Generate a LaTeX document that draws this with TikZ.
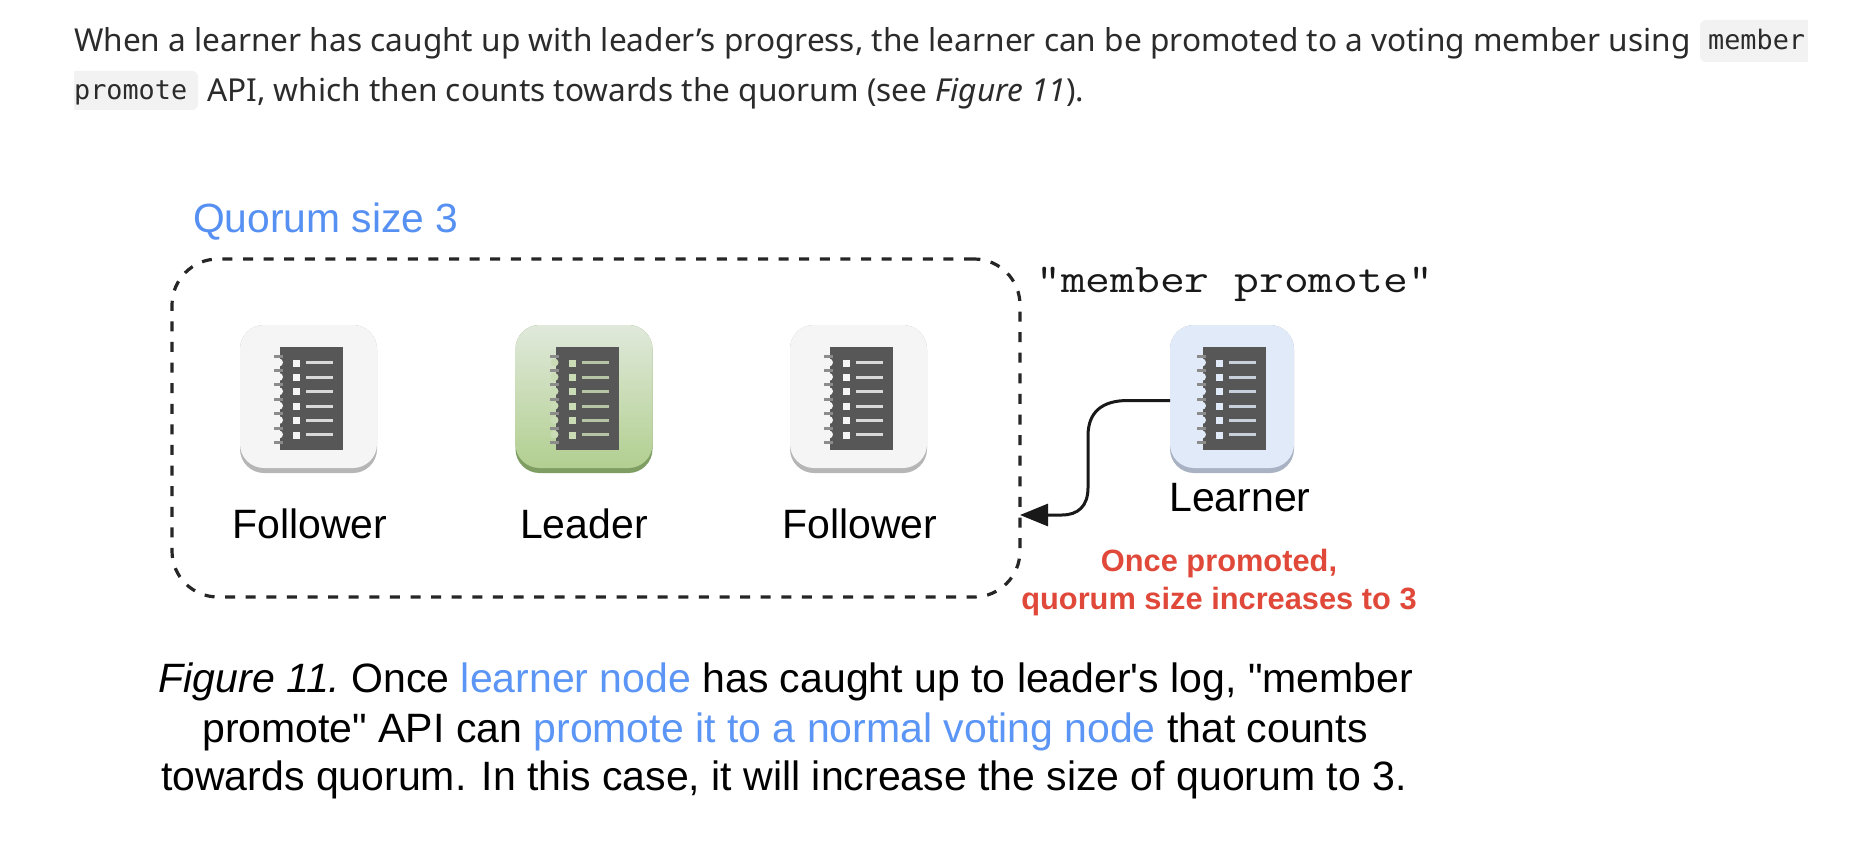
\documentclass[tikz,border=0pt]{standalone}
\usepackage{fontspec}
\usepackage{graphicx}
\usetikzlibrary{arrows.meta}
\setmainfont{Liberation Sans}
\newfontfamily\bodyfont{Noto Sans}
\newfontfamily\codefont{DejaVu Sans Mono}
\newfontfamily\labelfont{Liberation Sans}
\definecolor{bodyink}{HTML}{2B2B2B}
\definecolor{chip}{HTML}{F2F2F2}
\definecolor{qblue}{HTML}{5590F2}
\definecolor{capblue}{HTML}{5B95F5}
\definecolor{alert}{HTML}{E0493A}
\definecolor{folface}{HTML}{F5F5F5}
\definecolor{folshade}{HTML}{B6B6B6}
\definecolor{leadtop}{HTML}{E0E9DB}
\definecolor{leadbot}{HTML}{B2CF90}
\definecolor{leadshade}{HTML}{7F9E63}
\definecolor{learnface}{HTML}{E1EAF9}
\definecolor{learnshade}{HTML}{A8B2C3}
\definecolor{bookdark}{HTML}{575757}
\definecolor{ringgrey}{HTML}{8C8C8C}
\tikzset{
  x=1pt,y=-1pt,
  iconbase/.style={rectangle,rounded corners=24pt,inner sep=0pt,outer sep=0pt},
  bodytext/.style={anchor=base west,inner sep=0pt,text=bodyink,font=\bodyfont\fontsize{31.6}{38}\selectfont},
  codetext/.style={anchor=base west,inner sep=0pt,text=bodyink,font=\codefont\fontsize{26.8}{32}\selectfont},
  figlabel/.style={inner sep=0pt,font=\labelfont\fontsize{41}{48}\selectfont},
  redtext/.style={inner sep=0pt,text=alert,font=\labelfont\bfseries\fontsize{30.8}{36}\selectfont},
  captext/.style={inner sep=0pt,anchor=base,font=\labelfont\fontsize{41}{48}\selectfont},
}
% #1 notebook left, #2 bullet colour, #3 face colour
\newcommand{\bookart}[3]{%
  \begin{scope}[shift={(#1,347)}]
    \fill[bookdark] (0,0) rectangle (63,103);
    \foreach \r in {0,...,5}{
      \fill[#3] (-1,{15.5+14.4*\r}) circle[radius=4pt];
    }
    \foreach \r in {0,...,6}{
      \fill[ringgrey] (-6,{7.5+14.4*\r}) rectangle (3,{10.5+14.4*\r});
    }
    \foreach \r in {0,...,5}{
      \fill[#2] (13,{12.5+14.4*\r}) rectangle (20,{19.5+14.4*\r});
      \fill[#2!82!bookdark] (26,{14.3+14.4*\r}) rectangle (53,{17.3+14.4*\r});
    }
  \end{scope}}
\begin{document}
\begin{tikzpicture}
\useasboundingbox (0,0) rectangle (1864,848);
\fill[white] (0,0) rectangle (1864,848);
% paragraph
\fill[chip,rounded corners=6pt] (1700,20) rectangle (1830,62);
\fill[white] (1808,10) rectangle (1864,70);
\fill[chip,rounded corners=6pt] (40,71) rectangle (198,110);
\fill[white] (30,60) rectangle (74,120);
\node[bodytext] (para1) at (74,52) {When a learner has caught up with leader’s progress, the learner can be promoted to a voting member using};
\node[codetext] (code1) at (1708,50) {member};
\node[codetext] (code2) at (74,100) {promote};
\node[bodytext] (para2) at (207,102) {API, which then counts towards the quorum (see \textit{Figure 11}).};
% title
\node[inner sep=0pt,anchor=base west,text=qblue,font=\labelfont\fontsize{40.8}{48}\selectfont] (qtitle) at (193,232) {Quorum size 3};
\node[inner sep=0pt,anchor=base west,font=\ttfamily\fontsize{40.8}{48}\selectfont,text=black!90] (mptitle) at (1036,292) {\scalebox{1.18}[1]{"member promote"}};
% quorum box
\node[draw=black!85,line width=3.2pt,dash pattern=on 10pt off 10.6pt,rectangle,rounded corners=46pt,inner sep=0pt,outer sep=0pt,minimum width=848pt,minimum height=338pt] (quorum) at (596,428) {};
% follower 1
\node[iconbase,fill=folshade,minimum width=137pt,minimum height=148pt] (f1s) at (308.5,399) {};
\node[iconbase,fill=folface,minimum width=137pt,minimum height=143pt] (f1) at (308.5,396.5) {};
\bookart{280}{folface}{folface}
% leader
\node[iconbase,fill=leadshade,minimum width=137pt,minimum height=148pt] (ls) at (584,399) {};
\node[iconbase,top color=leadtop,bottom color=leadbot,minimum width=137pt,minimum height=143pt] (lead) at (584,396.5) {};
\bookart{555.5}{leadtop!50!leadbot}{leadtop!50!leadbot}
% follower 2
\node[iconbase,fill=folshade,minimum width=137pt,minimum height=148pt] (f2s) at (858.5,399) {};
\node[iconbase,fill=folface,minimum width=137pt,minimum height=143pt] (f2) at (858.5,396.5) {};
\bookart{830}{folface}{folface}
% learner
\node[iconbase,fill=learnshade,minimum width=124pt,minimum height=148pt] (ns) at (1232,399) {};
\node[iconbase,fill=learnface,minimum width=124pt,minimum height=143pt] (learner) at (1232,396.5) {};
\bookart{1203}{learnface}{learnface}
% labels
\node[figlabel,anchor=base] (t1) at (310,538) {Follower};
\node[figlabel,anchor=base] (t2) at (584,538) {Leader};
\node[figlabel,anchor=base] (t3) at (860,538) {Follower};
\node[figlabel,anchor=base] (t4) at (1240,511) {Learner};
\node[redtext,anchor=base] (r1) at (1219,571) {Once promoted,};
\node[redtext,anchor=base] (r2) at (1219,609) {quorum size increases to 3};
% connector
\coordinate (promoteend) at (quorum.east |- 0,515);
\draw[line width=3pt,black!90,-{Triangle[length=28pt,width=22pt]}]
  ([yshift=-4pt]learner.west) -- ++(-42,0) .. controls +(-26,0) and (1088,412) .. (1088,436)
  -- (1088,488) .. controls (1088,506) and (1078,515) .. (1062,515) -- (promoteend);
% caption
\node[captext] (c1) at (786,692) {\textit{Figure 11.}\hspace{-4pt} Once \textcolor{capblue}{learner node} has caught up to leader's log, "member};
\node[captext] (c2) at (785,742) {promote" API can \textcolor{capblue}{promote it to a normal voting node} that counts};
\node[captext] (c3) at (784,790) {towards quorum. In this case, it will increase the size of quorum to 3.};
\end{tikzpicture}
\end{document}
